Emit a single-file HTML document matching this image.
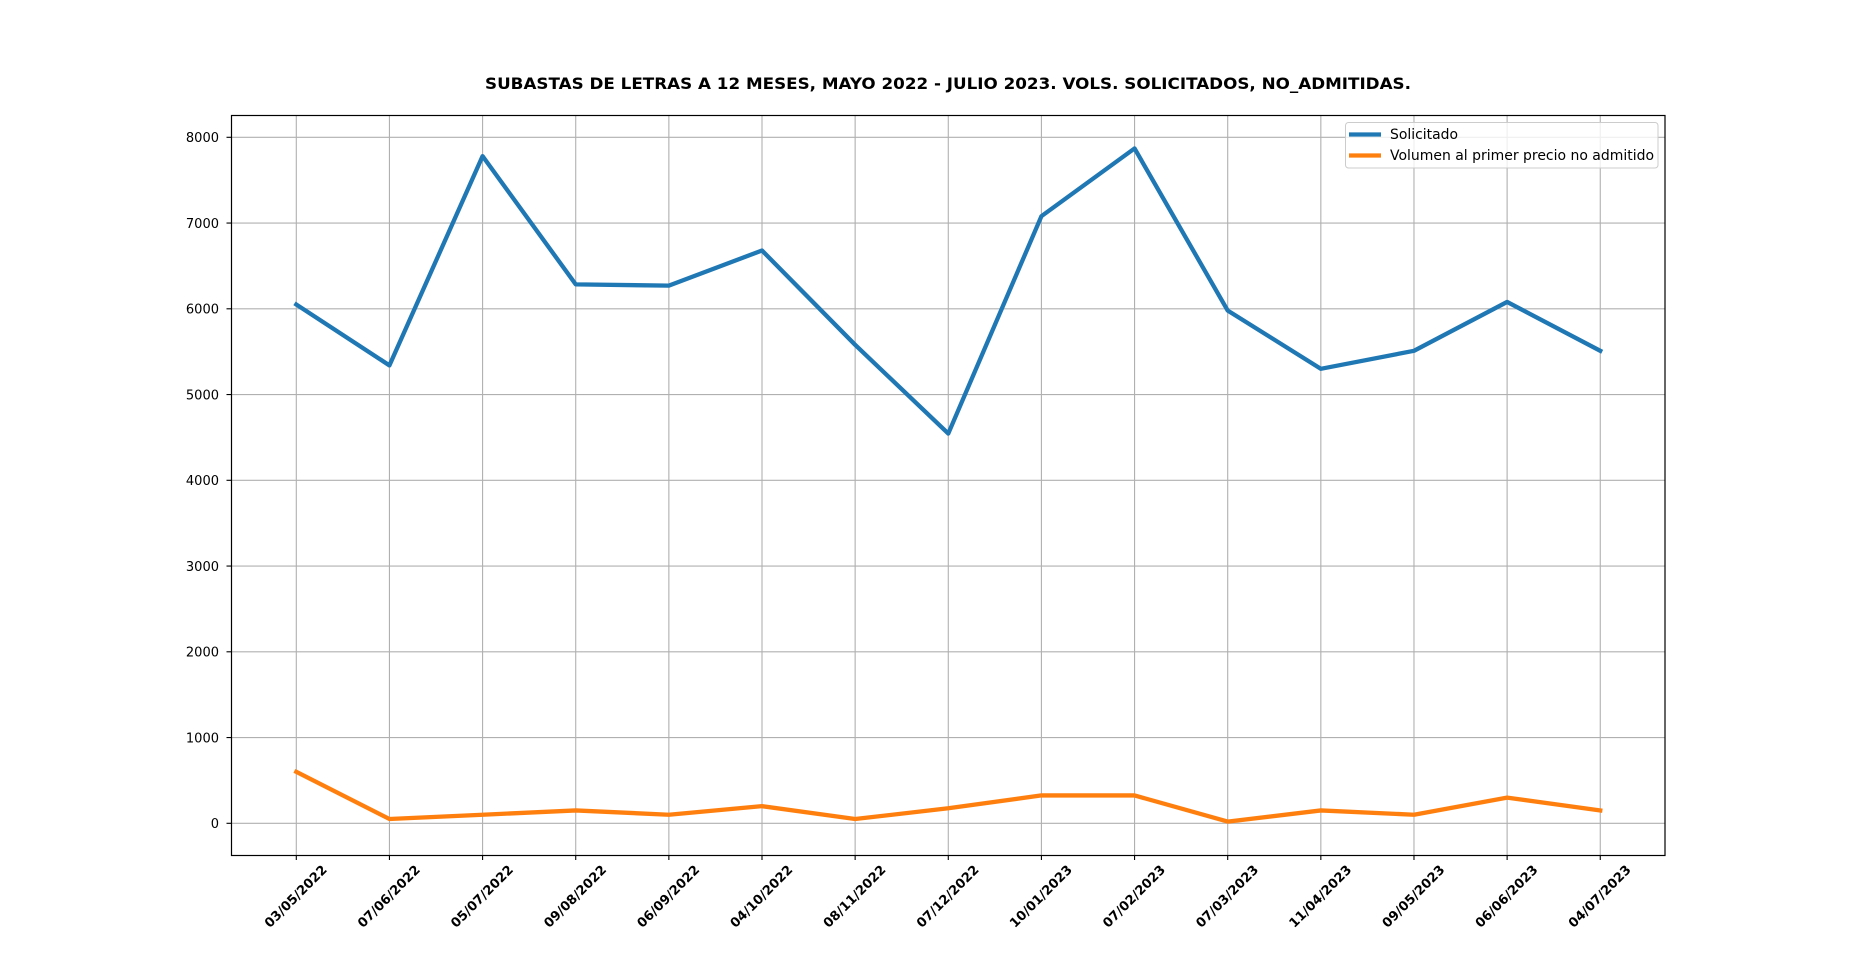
<!DOCTYPE html>
<html><head><meta charset="utf-8"><style>html,body{margin:0;padding:0;background:#fff}svg{display:block}</style></head>
<body>
<svg width="1850" height="961" xmlns="http://www.w3.org/2000/svg" font-family="DejaVu Sans, Liberation Sans, sans-serif">
<rect width="1850" height="961" fill="#fff"/>
<text x="948" y="89" text-anchor="middle" font-size="15.6" font-weight="bold" textLength="926" lengthAdjust="spacingAndGlyphs">SUBASTAS DE LETRAS A 12 MESES, MAYO 2022 - JULIO 2023. VOLS. SOLICITADOS, NO_ADMITIDAS.</text>
<g id="grid" stroke="#b0b0b0" stroke-width="1.1">
</g>
<g id="ticks"></g>
<polyline id="s1" fill="none" stroke="#1f77b4" stroke-width="4.3" stroke-linejoin="round" stroke-linecap="square"/>
<polyline id="s2" fill="none" stroke="#ff7f0e" stroke-width="4.3" stroke-linejoin="round" stroke-linecap="square"/>
<rect x="231.5" y="115.5" width="1433.5" height="740" fill="none" stroke="#000" stroke-width="1.2"/>
<rect x="1345.5" y="122.5" width="312.5" height="45.5" rx="3" fill="#fff" fill-opacity="0.8" stroke="#ccc" stroke-width="1"/>
<line x1="1349" y1="134.5" x2="1381" y2="134.5" stroke="#1f77b4" stroke-width="4.3"/>
<line x1="1349" y1="155.5" x2="1381" y2="155.5" stroke="#ff7f0e" stroke-width="4.3"/>
<text x="1390" y="139" font-size="13.8" textLength="68" lengthAdjust="spacingAndGlyphs">Solicitado</text>
<text x="1390" y="160" font-size="13.8" textLength="264" lengthAdjust="spacingAndGlyphs">Volumen al primer precio no admitido</text>
</svg>
<script>
const x0=296.3,dx=93.14,y0=823.3,k=0.08575;
const d=["03/05/2022","07/06/2022","05/07/2022","09/08/2022","06/09/2022","04/10/2022","08/11/2022","07/12/2022","10/01/2023","07/02/2023","07/03/2023","11/04/2023","09/05/2023","06/06/2023","04/07/2023"];
const a=[6050,5340,7780,6285,6270,6680,5580,4545,7080,7870,5980,5300,5510,6080,5510];
const b=[600,50,100,150,100,200,50,175,325,325,20,150,100,300,150];
const ns="http://www.w3.org/2000/svg";
const g=document.getElementById("grid"),t=document.getElementById("ticks");
function el(p,n,at,txt){const e=document.createElementNS(ns,n);for(const q in at)e.setAttribute(q,at[q]);if(txt)e.textContent=txt;p.appendChild(e);return e;}
d.forEach((s,i)=>{const x=x0+i*dx;el(g,"line",{x1:x,y1:115,x2:x,y2:855});
el(t,"line",{x1:x,y1:855,x2:x,y2:860,stroke:"#000","stroke-width":1.1});
el(t,"text",{x:0,y:0,transform:`translate(${x},897) rotate(-45)`,"text-anchor":"middle","dominant-baseline":"central","font-size":13,"font-weight":"bold"},s);});
for(let v=0;v<=8000;v+=1000){const y=y0-v*k;el(g,"line",{x1:231,y1:y,x2:1665,y2:y});
el(t,"line",{x1:226.5,y1:y,x2:231.5,y2:y,stroke:"#000","stroke-width":1.1});
el(t,"text",{x:219,y:y+4.7,"text-anchor":"end","font-size":13},String(v));}
document.getElementById("s1").setAttribute("points",a.map((v,i)=>(x0+i*dx)+","+(y0-v*k)).join(" "));
document.getElementById("s2").setAttribute("points",b.map((v,i)=>(x0+i*dx)+","+(y0-v*k)).join(" "));
</script>
</body></html>
